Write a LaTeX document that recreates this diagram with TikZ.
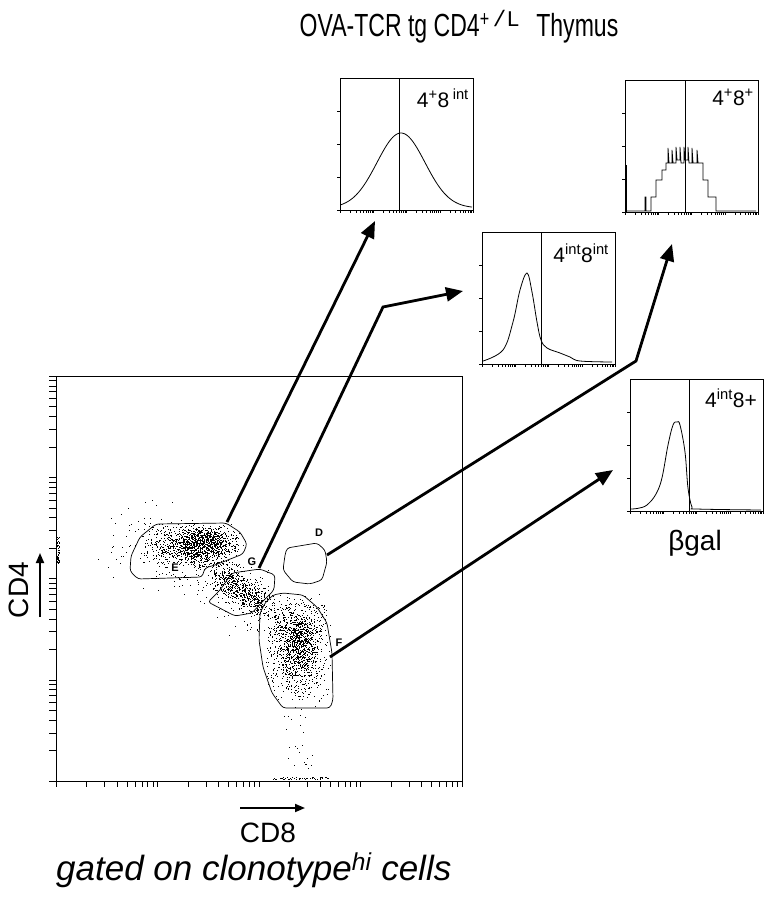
\documentclass[tikz,border=0pt]{standalone}
\usepackage{fontspec}
\setmainfont{Liberation Sans}
\newfontfamily\narrowfont[FakeStretch=0.72]{Liberation Sans}
\newfontfamily\monofont{Liberation Mono}
\usetikzlibrary{arrows.meta}

\begin{document}
\begin{tikzpicture}[x=1pt, y=-1pt,
    histbox/.style={draw, line width=0.8pt, minimum width=133pt, minimum height=132pt, inner sep=0pt},
    plotbox/.style={draw, line width=0.9pt, minimum width=406pt, minimum height=405pt, inner sep=0pt},
    gate/.style={line width=0.7pt, rounded corners=3pt},
    gatelabel/.style={font=\fontsize{11}{11}\selectfont\bfseries, inner sep=0.8pt, fill=white},
    histlabel/.style={font=\fontsize{21}{22}\selectfont, anchor=base east, inner sep=0pt},
    bigtext/.style={font=\fontsize{28}{30}\selectfont, inner sep=0pt},
    histline/.style={line width=0.8pt},
    linkarrow/.style={line width=2.8pt, -{Triangle[length=17pt, width=14pt]}},
    axisarrow/.style={line width=1.8pt, -{Triangle[length=10pt, width=8pt]}}]
    \useasboundingbox (0,0) rectangle (767,900);

    % title
    \node[bigtext, anchor=base] (title) at (459,36)
        {\narrowfont\fontsize{32}{34}\selectfont OVA-TCR tg CD4\textsuperscript{+\,{\monofont /L}}\enspace Thymus};

    % dot plot frame and log ticks
    \node[plotbox] (dotplot) at (259,578.5) {};
    \foreach \d in {0,...,3}
      \foreach \k in {1,...,9} {
        \draw ({56+101.5*(\d+ln(\k)/ln(10))},781) -- ++(0,6);
        \draw (56,{781-101.25*(\d+ln(\k)/ln(10))}) -- ++(-7,0);
      }
    \draw (462,781) -- ++(0,6);
    \draw (56,376) -- ++(-7,0);

    % events
    \pgfmathsetseed{7}
    \foreach \i in {1,...,900}
      \fill ({194+24*(rand+rand)},{547+12*(rand+rand)}) rectangle ++(1,1);
    \foreach \i in {1,...,400}
      \fill ({205+14*(rand+rand+rand)},{540+6*(rand+rand+rand)}) rectangle ++(1,1);
    \foreach \i in {1,...,60}
      \fill ({150+35*(rand+rand)},{552+20*(rand+rand)}) rectangle ++(1,1);
    \foreach \i in {1,...,600} {
      \pgfmathsetmacro\t{rand}
      \fill ({242+22*\t+10*(rand+rand)},{590+18*\t+8*(rand+rand)}) rectangle ++(1,1);
    }
    \foreach \i in {1,...,350} {
      \pgfmathsetmacro\t{rand}
      \fill ({218+80*\t+22*(rand+rand)},{580+55*\t+18*(rand+rand)}) rectangle ++(1,1);
    }
    \foreach \i in {1,...,1000}
      \fill ({297+17*(rand+rand)},{648+27*(rand+rand)}) rectangle ++(1,1);
    \foreach \i in {1,...,300}
      \fill ({300+8*(rand+rand+rand)},{640+12*(rand+rand+rand)}) rectangle ++(1,1);
    \foreach \i in {1,...,25}
      \fill ({300+16*rand},{740+35*rand}) rectangle ++(1,1);
    \foreach \i in {1,...,50}
      \fill ({58+1.5*rand},{550+14*rand}) rectangle ++(0.8,0.8);
    \foreach \i in {1,...,50}
      \fill ({300+28*rand},{778+1*rand}) rectangle ++(0.8,0.8);

    % gates
    \draw[gate] (156,524) -- (226,523) -- (240,532) -- (247,544) -- (243,554) -- (215,565)
        -- (205,568) -- (202,577) -- (138,579) -- (130,571) -- (131,556) -- (140,537) -- cycle;
    \draw[gate] (232,573) -- (260,569) -- (275,575) -- (274,590) -- (262,602) -- (252,613)
        -- (235,616) -- (208,602) -- (220,590) -- cycle;
    \draw[gate] (287,548) -- (317,543) -- (325,550) -- (327,562) -- (322,580) -- (310,584)
        -- (293,582) -- (283,570) -- (285,555) -- cycle;
    \draw[gate] (283,593) -- (303,595) -- (317,607) -- (327,623) -- (332,653) -- (333,700)
        -- (330,708) -- (283,708) -- (272,693) -- (263,667) -- (259,640) -- (260,613)
        -- (265,603) -- (273,595) -- cycle;
    \node[gatelabel] (labE) at (175,568) {E};
    \node[gatelabel] (labG) at (252,562) {G};
    \node[gatelabel] (labD) at (319,533) {D};
    \node[gatelabel] (labF) at (339,643) {F};

    % histogram frames, cut lines and ticks
    \foreach \nm/\xa/\ya/\cut in {hA/340/78/399, hB/625/80/685, hC/482/232/541, hD/630/379/689} {
      \node[histbox] (\nm) at ({\xa+66.5},{\ya+66}) {};
      \draw[histline] (\cut,\ya) -- (\cut,{\ya+132});
      \foreach \q in {1,...,4}
        \draw (\xa,{\ya+33*\q}) -- ++(-3,0);
      \foreach \d in {0,...,3}
        \foreach \k in {1,...,9}
          \draw ({\xa+33.25*(\d+ln(\k)/ln(10))},{\ya+132}) -- ++(0,3);
      \draw ({\xa+133},{\ya+132}) -- ++(0,3);
    }

    % histogram traces
    \draw[histline] plot[domain=341:472, samples=90] (\x,{208-75*exp(-((\x-401)*(\x-401))/1152)});
    \draw[histline] (626,211) -- (645,211) -- (645,197) -- (646,197) -- (646,211) -- (651,211)
        -- (651,197) -- (656,197) -- (656,180) -- (662,180) -- (662,170) -- (666,170) -- (666,163)
        -- (668,163) -- (668,148) -- (669,163) -- (672,163) -- (672,150) -- (673,163) -- (676,163)
        -- (676,147) -- (677,160) -- (680,160) -- (680,147) -- (681,163) -- (684,163) -- (684,147)
        -- (685,160) -- (688,160) -- (688,147) -- (689,163) -- (692,163) -- (692,148) -- (693,163)
        -- (697,163) -- (697,150) -- (698,163) -- (703,163) -- (703,180) -- (708,180) -- (708,197)
        -- (716,197) -- (716,211) -- (756,211);
    \draw[line width=1.6pt] (626,165) -- (626,212);
    \draw[histline] plot[smooth, tension=0.6] coordinates {(483,361) (503,350) (513,322) (520,290)
        (527,273) (532,292) (537,322) (541,340) (547,348) (560,353) (570,357) (580,361) (612,362)};
    \draw[histline] plot[smooth, tension=0.6] coordinates {(631,509) (647,505) (660,485) (668,445)
        (673,425) (677,422) (680,425) (685,452) (688,488) (692,507) (697,509) (761,510)};

    % histogram labels
    \node[histlabel] (labA) at (469,107) {4\textsuperscript{+}8\,\textsuperscript{int}};
    \node[histlabel] (labB) at (754,105) {4\textsuperscript{+}8\textsuperscript{+}};
    \node[histlabel] (labC) at (609,262) {4\textsuperscript{int}8\textsuperscript{int}};
    \node[histlabel] (labD2) at (757,407) {4\textsuperscript{int}8+};
    \node[bigtext, anchor=base] (bgal) at (695,550) {βgal};

    % links from gates to histograms
    \coordinate (gE) at (227,522);
    \coordinate (gG) at (259,568);
    \coordinate (gD) at (327,555);
    \coordinate (gF) at (330,657);
    \coordinate (tA) at (375,221);
    \coordinate (bendC) at (383,307);
    \coordinate (tC) at (463,291);
    \coordinate (bendB) at (636,361);
    \coordinate (tB) at (672,244);
    \coordinate (tD) at (613,470);
    \draw[linkarrow] (gE) -- (tA);
    \draw[linkarrow] (gG) -- (bendC) -- (tC);
    \draw[linkarrow] (gD) -- (bendB) -- (tB);
    \draw[linkarrow] (gF) -- (tD);

    % axis labels
    \node[bigtext, rotate=90] (cdfour) at (19,590) {CD4};
    \coordinate (yaS) at (40,617);
    \coordinate (yaE) at (40,553);
    \draw[axisarrow] (yaS) -- (yaE);
    \node[bigtext, anchor=base] (cdeight) at (268,842) {CD8};
    \coordinate (xaS) at (240,808);
    \coordinate (xaE) at (305,808);
    \draw[axisarrow] (xaS) -- (xaE);
    \node[bigtext, anchor=base west, font=\fontsize{35}{38}\selectfont\itshape] (gating) at (56,880)
        {gated on clonotype\textsuperscript{hi} cells};
\end{tikzpicture}
\end{document}
